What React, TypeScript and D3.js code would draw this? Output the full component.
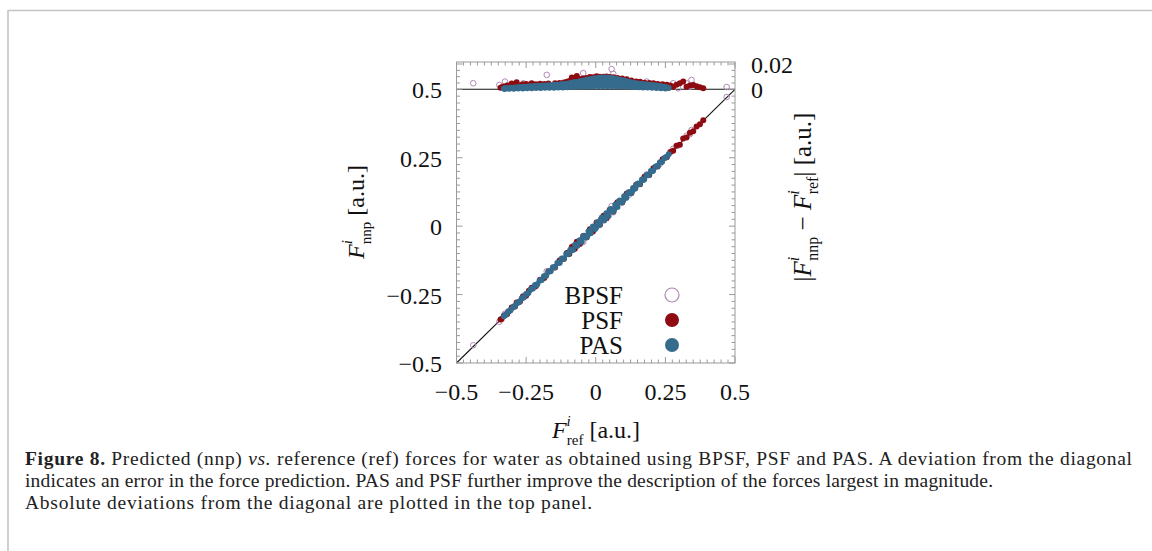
import React from "react";
import * as d3 from "d3";

// ---------- data ----------
// Each point: [reference force, signed deviation (nnp - ref)]
const pasPoints: [number, number][] = [
  [-0.330, 0.0006], [-0.322, -0.0010], [-0.314, 0.0008], [-0.306, -0.0013], [-0.298, 0.0011],
  [-0.290, -0.0015], [-0.282, 0.0014], [-0.274, -0.0018], [-0.266, 0.0017], [-0.258, -0.0020],
  [-0.250, 0.0019], [-0.242, -0.0022], [-0.234, 0.0024], [-0.226, -0.0022], [-0.218, 0.0026],
  [-0.210, -0.0025], [-0.202, 0.0028], [-0.194, -0.0027], [-0.186, 0.0030], [-0.178, -0.0029],
  [-0.170, 0.0032], [-0.162, -0.0031], [-0.154, 0.0034], [-0.146, -0.0035], [-0.138, 0.0034],
  [-0.130, -0.0037], [-0.122, 0.0039], [-0.114, -0.0041], [-0.106, 0.0042], [-0.098, -0.0046],
  [-0.090, 0.0050], [-0.082, -0.0053], [-0.074, 0.0057], [-0.066, -0.0058], [-0.058, 0.0063],
  [-0.050, -0.0066], [-0.042, 0.0070], [-0.034, -0.0074], [-0.026, 0.0077], [-0.018, -0.0081],
  [-0.010, 0.0084], [-0.002, -0.0088], [0.006, 0.0087], [0.014, -0.0091], [0.022, 0.0093],
  [0.030, -0.0092], [0.038, 0.0094], [0.046, -0.0092], [0.054, 0.0090], [0.062, -0.0088],
  [0.070, 0.0084], [0.078, -0.0080], [0.086, 0.0076], [0.094, -0.0072], [0.102, 0.0069],
  [0.110, -0.0064], [0.118, 0.0060], [0.126, -0.0056], [0.134, 0.0052], [0.142, -0.0048],
  [0.150, 0.0045], [0.158, -0.0042], [0.166, 0.0041], [0.174, -0.0039], [0.182, 0.0037],
  [0.190, -0.0036], [0.198, 0.0034], [0.206, -0.0032], [0.214, 0.0030], [0.222, -0.0028],
  [0.230, 0.0026], [0.238, -0.0023], [0.246, 0.0020], [0.254, -0.0016], [0.262, 0.0011],
  [-0.326, 0.0003], [-0.310, -0.0004], [-0.294, 0.0005], [-0.278, -0.0006],
  [-0.262, 0.0007], [-0.246, -0.0008], [-0.230, 0.0009], [-0.214, -0.0010], [-0.198, 0.0011],
  [-0.182, -0.0012], [-0.166, 0.0012], [-0.150, -0.0013], [-0.134, 0.0014], [-0.118, -0.0015],
  [-0.102, 0.0016], [-0.086, -0.0018], [-0.070, 0.0020], [-0.054, -0.0021], [-0.038, 0.0022],
  [-0.022, -0.0023], [-0.006, 0.0024], [0.010, -0.0024], [0.026, 0.0025], [0.042, -0.0025],
  [0.058, 0.0024], [0.074, -0.0023], [0.090, 0.0022], [0.106, -0.0021], [0.122, 0.0020],
  [0.138, -0.0018], [0.154, 0.0016], [0.170, -0.0015], [0.186, 0.0014], [0.202, -0.0012],
  [0.218, 0.0010], [0.234, -0.0009], [0.250, 0.0007],
  [-0.092, 0.0031], [-0.068, -0.0034], [-0.046, 0.0042], [-0.030, -0.0048], [-0.014, 0.0054],
  [0.002, -0.0058], [0.018, 0.0062], [0.034, -0.0063], [0.050, 0.0062], [0.066, -0.0058],
  [0.082, 0.0053], [0.098, -0.0048], [0.114, 0.0042], [0.130, -0.0035], [0.146, 0.0030],
];

const psfPoints: [number, number][] = [
  [-0.342, 0.0012], [-0.338, -0.0016], [-0.330, 0.0022], [-0.318, -0.0030], [-0.302, 0.0045],
  [-0.290, -0.0036], [-0.284, 0.0055], [-0.272, -0.0030], [-0.262, 0.0040], [-0.250, -0.0042],
  [-0.240, 0.0036], [-0.230, 0.0048], [-0.215, -0.0040], [-0.200, 0.0044], [-0.185, -0.0042],
  [-0.170, 0.0046], [-0.146, -0.0048], [-0.130, 0.0049], [-0.115, -0.0054], [-0.104, 0.0060],
  [-0.095, -0.0066], [-0.086, 0.0094], [-0.075, -0.0072], [-0.068, 0.0106], [-0.057, -0.0082],
  [-0.045, 0.0086], [-0.032, -0.0090], [-0.021, 0.0098], [-0.010, -0.0096], [0.003, 0.0104],
  [0.015, -0.0100], [0.028, 0.0100], [0.039, -0.0102], [0.050, 0.0098], [0.063, -0.0095],
  [0.078, 0.0090], [0.095, -0.0085], [0.111, 0.0080], [0.128, -0.0070], [0.145, 0.0062],
  [0.159, -0.0060], [0.175, 0.0052], [0.192, -0.0050], [0.207, 0.0048], [0.222, -0.0042],
  [0.240, 0.0040], [0.255, -0.0036], [0.268, 0.0030], [0.278, -0.0021], [0.290, 0.0036],
  [0.302, -0.0048], [0.314, 0.0061], [0.326, -0.0021], [0.338, 0.0030], [0.350, -0.0034],
  [0.362, 0.0025], [0.374, -0.0016], [0.386, 0.0008],
];

const bpsfPoints: [number, number][] = [
  [-0.440, 0.0048], [-0.346, -0.0034], [-0.326, 0.0061], [-0.320, -0.0026], [-0.315, 0.0030],
  [-0.260, 0.0048], [-0.220, -0.0030], [-0.176, 0.0114], [-0.130, -0.0040], [-0.081, 0.0080],
  [-0.045, -0.0128], [-0.010, 0.0060], [0.039, -0.0048], [0.057, 0.0160], [0.063, -0.0122],
  [0.075, 0.0074], [0.120, -0.0050], [0.183, 0.0061], [0.230, -0.0035], [0.278, 0.0048],
  [0.296, -0.0008], [0.326, 0.0048], [0.338, -0.0021], [0.344, 0.0074], [0.470, 0.0018],
];

const seriesNames = ["BPSF", "PSF", "PAS"];
const xTickValues = [-0.5, -0.25, 0, 0.25, 0.5];
const xTickLabels = ["\u22120.5", "\u22120.25", "0", "0.25", "0.5"];
const yTickValues = [-0.5, -0.25, 0, 0.25, 0.5];
const yTickLabels = ["\u22120.5", "\u22120.25", "0", "0.25", "0.5"];
const devTickValues = [0, 0.02];
const devTickLabels = ["0", "0.02"];

// ---------- styling ----------
const COL_BPSF = "#b08ab4";
const COL_PSF = "#8e0b12";
const COL_PAS = "#356b8d";
const AXIS = "#9a9a9a";
const FONT = "'Liberation Serif', 'Times New Roman', serif";

function MathSym({ sub, big }: { sub: string; big: number }) {
  const s = Math.round(big * 0.63);
  return (
    <>
      <tspan fontStyle="italic">F</tspan>
      <tspan fontStyle="italic" fontSize={s} dy={-12}>i</tspan>
      <tspan fontSize={s} dx={-4} dy={19}>{sub}</tspan>
    </>
  );
}

export default function App() {
  const x = d3.scaleLinear().domain([-0.5, 0.5]).range([456.5, 735]);
  const y = d3.scaleLinear().domain([-0.5, 0.5]).range([363, 89.3]);
  const yd = d3.scaleLinear().domain([0, 0.02]).range([89.3, 64]);
  const topY = 62;
  const [x0, x1] = x.range();
  const yBot = y(-0.5);
  const yZero = y(0.5);

  const minorX = d3.range(-0.5, 0.5001, 0.025);
  const minorY = d3.range(-0.5, 0.5001, 0.025);
  const minorD = d3.range(0.005, 0.0201, 0.005);

  const r = 3;

  const topPanel = (pts: [number, number][], kind: string) =>
    pts.map(([ref, dev], i) =>
      kind === "BPSF" ? (
        <circle key={kind + "t" + i} cx={x(ref)} cy={yd(Math.abs(dev))} r={2.8} fill="none" stroke={COL_BPSF} strokeWidth={1} />
      ) : (
        <circle key={kind + "t" + i} cx={x(ref)} cy={yd(Math.abs(dev))} r={r} fill={kind === "PSF" ? COL_PSF : COL_PAS} />
      )
    );
  const mainPanel = (pts: [number, number][], kind: string) =>
    pts.map(([ref, dev], i) =>
      kind === "BPSF" ? (
        <circle key={kind + "m" + i} cx={x(ref)} cy={y(ref + dev)} r={2.8} fill="none" stroke={COL_BPSF} strokeWidth={1} />
      ) : (
        <circle key={kind + "m" + i} cx={x(ref)} cy={y(ref + dev)} r={r} fill={kind === "PSF" ? COL_PSF : COL_PAS} />
      )
    );

  const isMajor = (v: number) => Math.abs(v * 4 - Math.round(v * 4)) < 1e-6;

  return (
    <svg width={1152} height={551} style={{ position: "absolute", left: 0, top: 0, display: "block" }} fontFamily={FONT}>
      <rect x={0} y={0} width={1152} height={551} fill="#fff" />
      {/* page frame */}
      <line x1={8} y1={10.5} x2={1152} y2={10.5} stroke="#c4c4c4" strokeWidth={1.6} />
      <line x1={8} y1={10} x2={8} y2={551} stroke="#c4c4c4" strokeWidth={1.6} />

      {/* reference lines */}
      <line x1={x0} y1={yZero} x2={x1} y2={yZero} stroke="#111" strokeWidth={1.1} />
      <line x1={x(-0.5)} y1={y(-0.5)} x2={x(0.5)} y2={y(0.5)} stroke="#111" strokeWidth={1.1} />

      {/* points */}
      <g>
        {topPanel(bpsfPoints, "BPSF")}
        {mainPanel(bpsfPoints, "BPSF")}
        {topPanel(psfPoints, "PSF")}
        {mainPanel(psfPoints, "PSF")}
        {topPanel(pasPoints, "PAS")}
        {mainPanel(pasPoints, "PAS")}
      </g>

      {/* frame and ticks */}
      <rect x={x0} y={topY} width={x1 - x0} height={yBot - topY} fill="none" stroke={AXIS} strokeWidth={1} />
      <g stroke={AXIS} strokeWidth={1}>
        {minorX.map((v, i) => {
          const L = isMajor(v) ? 6 : 3.5;
          return (
            <g key={"xt" + i}>
              <line x1={x(v)} x2={x(v)} y1={yBot} y2={yBot - L} />
              <line x1={x(v)} x2={x(v)} y1={topY} y2={topY + L} />
            </g>
          );
        })}
        {minorY.map((v, i) => {
          const L = isMajor(v) ? 6 : 3.5;
          return (
            <g key={"yt" + i}>
              <line x1={x0} x2={x0 + L} y1={y(v)} y2={y(v)} />
              <line x1={x1} x2={x1 - L} y1={y(v)} y2={y(v)} />
            </g>
          );
        })}
        {minorD.map((v, i) => {
          const L = v > 0.0199 ? 6 : 3.5;
          return (
            <g key={"dt" + i}>
              <line x1={x0} x2={x0 + L} y1={yd(v)} y2={yd(v)} />
              <line x1={x1} x2={x1 - L} y1={yd(v)} y2={yd(v)} />
            </g>
          );
        })}
      </g>

      {/* tick labels */}
      <g fontSize={24} fill="#111">
        {xTickValues.map((v, i) => (
          <text key={"xl" + i} x={x(v)} y={400} textAnchor="middle">{xTickLabels[i]}</text>
        ))}
        {yTickValues.map((v, i) => (
          <text key={"yl" + i} x={442} y={y(v) + 9} textAnchor="end">{yTickLabels[i]}</text>
        ))}
        {devTickValues.map((v, i) => (
          <text key={"dl" + i} x={751} y={yd(v) + 9} textAnchor="start">{devTickLabels[i]}</text>
        ))}
      </g>

      {/* axis labels */}
      <text x={596} y={438} fontSize={24} textAnchor="middle" fill="#111">
        <MathSym sub="ref" big={24} />
        <tspan dy={-7}>{"\u00a0[a.u.]"}</tspan>
      </text>
      <text transform={`translate(364,212) rotate(-90)`} fontSize={24} textAnchor="middle" fill="#111">
        <MathSym sub="nnp" big={24} />
        <tspan dy={-7}>{"\u00a0[a.u.]"}</tspan>
      </text>
      <text transform={`translate(811,197) rotate(-90)`} fontSize={25} textAnchor="middle" fill="#111">
        <tspan>|</tspan>
        <MathSym sub="nnp" big={25} />
        <tspan dy={-7}>{"\u00a0\u2212\u00a0"}</tspan>
        <MathSym sub="ref" big={25} />
        <tspan dy={-7}>{"|\u00a0[a.u.]"}</tspan>
      </text>

      {/* legend */}
      <g fontSize={25} fill="#111">
        {seriesNames.map((name, i) => {
          const cy = 295 + i * 25;
          return (
            <g key={name}>
              <text x={623} y={cy + 9} textAnchor="end">{name}</text>
              {name === "BPSF" ? (
                <circle cx={672} cy={cy} r={7} fill="#fff" stroke={COL_BPSF} strokeWidth={1.2} />
              ) : (
                <circle cx={672} cy={cy} r={7} fill={name === "PSF" ? COL_PSF : COL_PAS} />
              )}
            </g>
          );
        })}
      </g>

      {/* caption */}
      <g fontSize={19.5} fill="#222">
        <text x={25} y={465} textLength={1107} lengthAdjust="spacing">
          <tspan fontWeight="bold">Figure 8.</tspan>
          <tspan> Predicted (nnp) </tspan>
          <tspan fontStyle="italic">vs.</tspan>
          <tspan> reference (ref) forces for water as obtained using BPSF, PSF and PAS. A deviation from the diagonal</tspan>
        </text>
        <text x={25} y={487} textLength={968} lengthAdjust="spacing">
          indicates an error in the force prediction. PAS and PSF further improve the description of the forces largest in magnitude.
        </text>
        <text x={25} y={509} textLength={567} lengthAdjust="spacing">
          Absolute deviations from the diagonal are plotted in the top panel.
        </text>
      </g>
    </svg>
  );
}
